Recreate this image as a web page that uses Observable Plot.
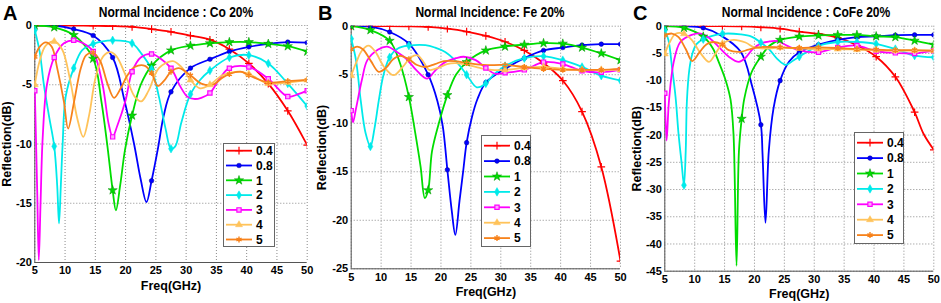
<!DOCTYPE html>
<html><head><meta charset="utf-8">
<script src="https://cdn.jsdelivr.net/npm/d3@7"></script>
<script src="https://cdn.jsdelivr.net/npm/@observablehq/plot@0.6"></script>
<style>
body{margin:0;background:#fff;font-family:"Liberation Sans",Arial,sans-serif;}
#wrap{position:relative;width:941px;height:303px;overflow:hidden;background:#fff;}
.panel{position:absolute;top:0;}
.title{position:absolute;font-weight:bold;font-size:14.5px;line-height:14.5px;white-space:nowrap;transform:translateX(-50%) scaleX(0.83);transform-origin:50% 0;color:#000;}
.letter{position:absolute;font-weight:bold;font-size:20px;line-height:20px;color:#000;}
.legend{position:absolute;background:#fff;border:1px solid #666;box-sizing:border-box;}
</style></head>
<body><div id="wrap"></div>
<script>
// ---------- shared ----------
const freqTicks = [5,10,15,20,25,30,35,40,45,50];
const markerFreqs = [5,8.21,11.43,14.64,17.86,21.07,24.29,27.5,30.71,33.93,37.14,40.36,43.57,46.79,50];
const seriesNames = ["0.4","0.8","1","2","3","4","5"];
const seriesColors = ["#ff0000","#0000ff","#00dd00","#00eaea","#ff00ff","#ffc35a","#f7821b"];
const seriesSymbols = ["plus","circle","star","diamond","square","triangle","asterisk"];

// ---------- Panel A : Co 20% ----------
const A_04 = [[5,0],[8.21,0],[11.43,0],[14.64,-0.02],[17.86,-0.05],[21.07,-0.12],[24.29,-0.3],[27.5,-0.53],[30.71,-0.85],[33.93,-1.2],[37.14,-2.0],[40.36,-3.2],[43.57,-4.9],[46.79,-7.2],[50,-10.1]];
const A_08 = [[5,0],[8.21,0],[11.43,-0.3],[14.64,-0.85],[17.86,-2.7],[19.8,-6.3],[21.4,-10],[22.5,-13],[23.45,-14.9],[24.29,-13.1],[25.3,-10.5],[26.3,-7.6],[27.5,-5.6],[30.71,-3.6],[33.93,-2.85],[37.14,-2.2],[40.36,-1.8],[43.57,-1.55],[46.79,-1.4],[50,-1.45]];
const A_1 = [[5,0],[8.21,-0.15],[11.43,-0.8],[14.64,-2.8],[16,-6.4],[17,-10.2],[17.86,-13.9],[18.4,-15.6],[19.1,-13.5],[19.9,-10.5],[21.07,-7.6],[22.5,-5],[24.29,-3.4],[27.5,-2.1],[30.71,-1.7],[33.93,-1.5],[37.14,-1.4],[40.36,-1.4],[43.57,-1.55],[46.79,-1.75],[50,-2.2]];
const A_2 = [[5,-0.4],[5.8,-2.2],[6.5,-5],[7.4,-7.8],[8.21,-10.2],[8.7,-13.5],[9.0,-16.7],[9.3,-13.5],[9.6,-10],[10.1,-6],[11.43,-3.6],[12.8,-2.1],[14.64,-1.55],[17.86,-1.25],[21.07,-1.5],[22.5,-2.3],[24.29,-3.7],[25.5,-6],[26.6,-8.7],[27.5,-10.4],[28.2,-10.2],[29.2,-8.2],[30.71,-5.8],[32.3,-4.6],[33.93,-3.8],[37.14,-2.7],[40.36,-2.5],[43.57,-3.2],[46.79,-4.9],[50,-6.8]];
const A_3 = [[5,-5.5],[5.4,-14],[5.66,-19.8],[5.95,-15],[6.3,-9.5],[7.0,-5],[8.21,-2.7],[9.8,-1.5],[11.43,-1.25],[13,-1.5],[14.64,-2.2],[16.2,-5],[17.2,-8.3],[17.86,-9.4],[18.6,-8.5],[20,-6.3],[21.07,-3.9],[22.5,-2.7],[24.29,-2.4],[25.8,-2.8],[27.5,-3.6],[29.1,-5.2],[30.2,-6.0],[31.3,-6.2],[32.5,-6.1],[33.93,-5.7],[35.5,-4.5],[37.14,-3.6],[40.36,-3.5],[43.57,-4.5],[46.79,-6.0],[48.5,-5.8],[50,-5.5]];
const A_4 = [[5,-5.0],[5.8,-3],[6.8,-1.7],[8.21,-1.35],[9.5,-2],[10.8,-4.5],[12,-7.8],[13.0,-9.4],[14,-7.5],[15,-4.5],[16.3,-2.6],[17.5,-2.25],[18.5,-2.6],[20,-4.2],[21.5,-6],[22.6,-6.4],[23.8,-5.5],[25.5,-3.6],[27.8,-3.0],[29.2,-3.5],[30.71,-4.6],[32.3,-5.3],[33.93,-5.0],[36,-4.2],[38.5,-3.9],[40.36,-4.1],[43.57,-4.9],[46.79,-4.8],[50,-4.6]];
const A_5 = [[5,-2.65],[5.8,-1.8],[6.8,-1.43],[7.8,-1.8],[8.7,-3.6],[9.8,-6.4],[10.5,-8.7],[11.5,-6.4],[12.6,-3.6],[13.5,-2.5],[14.64,-2.3],[15.8,-3],[17,-4.9],[18.1,-6.1],[19.2,-5.3],[20.3,-4.2],[21.5,-3.5],[23.2,-3.4],[24.29,-4],[25.3,-5.1],[26.3,-4.7],[27.5,-3.9],[28.8,-3.6],[30.71,-4.2],[32.5,-4.9],[34.4,-5.0],[36,-4.4],[37.14,-4.1],[39,-3.9],[40.36,-4.2],[43.57,-4.8],[46.79,-4.7],[50,-4.6]];

// ---------- Panel B : Fe 20% ----------
const B_04 = [[5,0],[8.21,0],[11.43,0],[14.64,-0.02],[17.86,-0.08],[21.07,-0.25],[24.29,-0.55],[27.5,-1.0],[30.71,-1.6],[33.93,-2.5],[37.14,-3.8],[40.36,-5.6],[43.57,-8.8],[46.79,-14.5],[50,-24.2]];
const B_08 = [[5,0],[8.21,-0.05],[11.43,-0.6],[14.64,-1.8],[17.86,-5.0],[19.4,-7.7],[20.3,-10.3],[21.07,-14.8],[21.8,-19],[22.4,-21.5],[23.1,-18],[23.7,-15],[24.29,-12.0],[25.2,-9.3],[26.1,-7.5],[27.5,-5.8],[30.71,-4.4],[33.93,-3.3],[37.14,-2.5],[40.36,-2.2],[43.57,-1.95],[46.79,-1.85],[50,-1.85]];
const B_1 = [[5,0],[8.21,-0.4],[11.43,-1.5],[13.2,-3.9],[14.64,-7.3],[15.7,-11],[16.6,-14.5],[17.3,-17.7],[17.86,-16.9],[18.5,-12.9],[19.6,-10.1],[21.07,-7.1],[22.5,-5],[24.29,-3.7],[27.5,-2.5],[30.71,-2.1],[33.93,-1.9],[37.14,-1.75],[40.36,-1.8],[43.57,-2.2],[46.79,-2.8],[50,-3.5]];
const B_2 = [[5,-1.3],[5.8,-3.5],[6.6,-7.7],[7.4,-11],[8.21,-12.4],[8.9,-10.5],[9.6,-7.7],[10.4,-5],[11.43,-3.2],[12.8,-2.3],[14.64,-2.0],[17.4,-1.95],[19,-2.2],[20.7,-2.65],[22.5,-3.6],[24.29,-5.0],[26,-6.3],[27.5,-5.9],[28.8,-5],[30.71,-4.1],[33.93,-3.3],[37.14,-3.1],[40.36,-3.5],[43.57,-4.2],[46.79,-5.1],[50,-5.6]];
const B_3 = [[5,-8.7],[5.3,-9.9],[5.8,-8.5],[6.8,-5.5],[7.7,-3.5],[9.5,-2.4],[11.0,-2.1],[12.5,-2.6],[14.1,-3.3],[16,-4.6],[17.7,-5.4],[19,-4.6],[20.7,-3.7],[22.5,-3.3],[23.8,-3.15],[25.8,-3.5],[27.5,-4.3],[29,-4.9],[30.71,-4.8],[33.93,-4.5],[37.14,-3.7],[40.36,-3.9],[43.57,-4.6],[46.79,-4.75],[50,-4.5]];
const B_4 = [[5,-5.1],[5.8,-3.8],[6.8,-2.5],[7.9,-2.0],[9,-2.6],[10.5,-4.2],[12.1,-5.05],[13.6,-4.2],[15,-3.2],[16.1,-3.0],[17.2,-3.8],[18,-4.5],[19.5,-4.3],[21,-3.9],[22.5,-3.8],[24.5,-4.0],[26.5,-4.3],[28.5,-4.5],[30.71,-4.5],[33.93,-4.3],[37.14,-4.2],[40.36,-4.4],[43.57,-4.5],[46.79,-4.5],[50,-4.5]];
const B_5 = [[5,-2.4],[6.0,-2.1],[7,-2.4],[8.3,-3.6],[9.6,-4.7],[10.8,-4.3],[12,-3.4],[13.2,-3.05],[14.64,-3.4],[16,-4.0],[17.5,-4.2],[19,-3.9],[20.5,-3.6],[22.3,-3.6],[24.29,-3.8],[27,-4.0],[30.71,-4.0],[33.93,-4.2],[37.14,-4.4],[40.36,-4.5],[43.57,-4.5],[46.79,-4.5],[50,-4.4]];

// ---------- Panel C : CoFe 20% ----------
const C_04 = [[5,0],[8.21,0],[11.43,0],[14.64,0],[17.86,-0.05],[21.07,-0.2],[24.29,-0.45],[27.5,-1.0],[30.71,-1.4],[33.93,-2.1],[37.14,-3.5],[40.36,-5.6],[43.57,-9.3],[46.79,-15.8],[48.3,-19.8],[50,-22.7]];
const C_08 = [[5,0],[8.21,0],[11.43,-0.3],[14.3,-1.65],[17.7,-4.7],[19.6,-11],[21.07,-18.1],[21.35,-23.5],[21.84,-36.1],[22.4,-22.9],[23.2,-15],[24.29,-10],[25.8,-6.5],[27.5,-4.8],[30.71,-3.4],[33.93,-2.5],[37.14,-2.0],[40.36,-1.85],[43.57,-1.65],[46.79,-1.6],[50,-1.6]];
const C_1 = [[5,0],[8.21,-0.3],[11.43,-1.9],[13,-4],[14.0,-6.5],[15.2,-10],[16,-13.5],[16.5,-20],[17.0,-44],[17.4,-23],[17.86,-17],[18.3,-13.3],[19.5,-8.5],[21.07,-5.6],[22.5,-3.6],[24.29,-2.5],[27.5,-1.9],[30.71,-1.7],[33.93,-1.6],[37.14,-1.6],[40.36,-1.85],[43.57,-2.0],[46.79,-2.65],[50,-3.4]];
const C_2 = [[5,-0.8],[5.6,-2.5],[6.2,-7.5],[6.8,-13],[7.3,-19.8],[7.8,-25],[8.21,-29.2],[8.5,-22.9],[8.7,-13.7],[9.1,-8],[9.6,-5.1],[10.3,-3.3],[11.43,-2.4],[14.64,-1.4],[17.7,-1.5],[19.5,-1.9],[21.07,-3.0],[22.5,-4.3],[23.8,-6],[25.2,-7.1],[26.5,-6.3],[27.5,-5.6],[30.71,-3.6],[33.93,-2.9],[37.14,-2.9],[40.36,-3.25],[43.57,-4.2],[46.79,-5.4],[50,-5.7]];
const C_3 = [[5,-12.3],[5.3,-21],[5.7,-13.7],[6.5,-6.5],[7.6,-2.9],[9.5,-1.6],[11.0,-1.35],[12.5,-2.2],[14.0,-3.8],[15.7,-5.6],[17.4,-6.55],[18.5,-5.8],[19.7,-4.2],[21.2,-3.1],[22.5,-2.8],[23.8,-2.75],[25.5,-3.6],[27.4,-4.4],[30.71,-4.8],[33.93,-3.9],[37.14,-3.55],[40.36,-4.6],[43.57,-4.9],[46.79,-5.0],[50,-4.5]];
const C_4 = [[5,-5.1],[5.8,-3],[6.8,-1.4],[8.21,-1.4],[9.5,-2.5],[11,-5],[12.4,-6.55],[13.5,-5],[14.64,-3.2],[16.5,-2.5],[18.5,-3],[20,-3.9],[22,-4.1],[24.29,-3.9],[27.5,-4.1],[30.71,-4.2],[33.93,-4.2],[37.14,-4.3],[40.36,-4.4],[43.57,-4.5],[46.79,-4.5],[50,-4.5]];
const C_5 = [[5,-1.65],[6.2,-1.35],[7.3,-2.0],[8.5,-4.2],[9.58,-6.4],[10.8,-4.8],[12,-3.3],[13.2,-2.9],[14.64,-3.4],[15.7,-4.4],[17.6,-4.7],[19,-4.3],[20.5,-3.9],[22,-3.8],[24.29,-3.9],[27.5,-4.0],[30.71,-3.9],[33.93,-4.0],[37.14,-4.2],[40.36,-4.3],[43.57,-4.4],[46.79,-4.4],[50,-4.5]];

// ---------- layout config ----------
const panels = [
  {letter:"A", title:"Normal Incidence : Co 20%", data:[A_04,A_08,A_1,A_2,A_3,A_4,A_5], yTicks:[-20,-15,-10,-5,0],
   left:0, width:313, ml:34.3, mr:6.3, mt:25, mb:41, yLabDx:-27.8, xLabDy:23, titleX:176, letterX:3,
   lg:{left:223, top:143, w:52, h:104, first:7.7, step:14.8}},
  {letter:"B", title:"Normal Incidence: Fe 20%", data:[B_04,B_08,B_1,B_2,B_3,B_4,B_5], yTicks:[-25,-20,-15,-10,-5,0],
   left:313, width:313, ml:37.7, mr:6, mt:25.7, mb:34.7, yLabDx:-29, xLabDy:23, titleX:490, letterX:318,
   lg:{left:481, top:135, w:50, h:112, first:10.7, step:15.4}},
  {letter:"C", title:"Normal Incidence : CoFe 20%", data:[C_04,C_08,C_1,C_2,C_3,C_4,C_5], yTicks:[-45,-40,-35,-30,-25,-20,-15,-10,-5,0],
   left:626, width:315, ml:38.3, mr:7.7, mt:25.7, mb:32.3, yLabDx:-27.6, xLabDy:22.6, titleX:806, letterX:633,
   lg:{left:854, top:132, w:50, h:112, first:10.7, step:15.4}}
];

function markerStyle(i){
  const c = seriesColors[i];
  switch(seriesSymbols[i]){
    case "plus": return {fill:"none", stroke:c, strokeWidth:1.2, r:2.6};
    case "asterisk": return {fill:"none", stroke:c, strokeWidth:1.4, r:2.8};
    case "square": return {fill:"#ffa6ff", stroke:c, strokeWidth:1.2, r:2.4};
    case "circle": return {fill:c, stroke:"#00009a", strokeWidth:0.5, r:2.3};
    case "star": return {fill:c, stroke:"#009000", strokeWidth:0.5, r:2.9};
    default: return {fill:c, stroke:c, strokeWidth:0.5, r:2.6};
  }
}
const isMarker = f => markerFreqs.some(g => Math.abs(g - f) < 0.02);

const wrap = document.getElementById("wrap");
const symMap = {plus:d3.symbolPlus, asterisk:d3.symbolAsterisk, square:d3.symbolSquare, circle:d3.symbolCircle, star:d3.symbolStar, diamond:d3.symbolDiamond, triangle:d3.symbolTriangle};
const FONT = "'Liberation Sans', Arial, sans-serif";

panels.forEach(p => {
  const rows = [];
  p.data.forEach((arr, i) => arr.forEach(([f, v]) => rows.push({s: seriesNames[i], i, f, v})));
  const marks = [
    Plot.gridX(freqTicks, {stroke:"#8a8a8a", strokeOpacity:1, strokeDasharray:"1,2", strokeWidth:1}),
    Plot.gridY(p.yTicks, {stroke:"#8a8a8a", strokeOpacity:1, strokeDasharray:"1,2", strokeWidth:1}),
    Plot.ruleX([freqTicks[0]], {stroke:"#555"}),
    Plot.ruleY([p.yTicks[0]], {stroke:"#555"}),
  ];
  seriesNames.forEach((s, i) => {
    const d = rows.filter(r => r.i === i);
    marks.push(Plot.line(d, {x:"f", y:"v", stroke:seriesColors[i], strokeWidth:1.8, curve:"catmull-rom", clip:true}));
  });
  seriesNames.forEach((s, i) => {
    const d = rows.filter(r => r.i === i && isMarker(r.f));
    marks.push(Plot.dot(d, {x:"f", y:"v", symbol:() => seriesSymbols[i], ...markerStyle(i), clip:true}));
  });
  marks.push(Plot.axisX({ticks:freqTicks, tickSize:0, tickPadding:4, fontSize:11, fontWeight:"bold", label:null}));
  marks.push(Plot.axisY({ticks:p.yTicks, tickSize:0, tickPadding:3, fontSize:11, fontWeight:"bold", tickFormat:d => String(d), label:null}));
  marks.push(Plot.text(["Freq(GHz)"], {frameAnchor:"bottom", dy:p.xLabDy, lineAnchor:"middle", textAnchor:"middle", fontSize:12.5, fontWeight:"bold", fill:"#000"}));
  marks.push(Plot.text(["Reflection(dB)"], {frameAnchor:"left", dx:p.yLabDx, rotate:-90, lineAnchor:"middle", textAnchor:"middle", fontSize:12.5, fontWeight:"bold", fill:"#000"}));

  const chart = Plot.plot({
    width:p.width, height:303,
    marginLeft:p.ml, marginRight:p.mr, marginTop:p.mt, marginBottom:p.mb,
    x:{domain:[5,50]}, y:{domain:[p.yTicks[0], 0]},
    style:{fontFamily:FONT, fontWeight:"bold", fontSize:"11px", color:"#000", background:"transparent", overflow:"visible"},
    marks
  });
  const holder = document.createElement("div");
  holder.className = "panel";
  holder.style.left = p.left + "px";
  holder.appendChild(chart);
  wrap.appendChild(holder);

  // title & panel letter
  const t = document.createElement("div");
  t.className = "title"; t.textContent = p.title;
  t.style.left = p.titleX + "px"; t.style.top = "4.5px";
  wrap.appendChild(t);
  const L = document.createElement("div");
  L.className = "letter"; L.textContent = p.letter;
  L.style.left = p.letterX + "px"; L.style.top = "2.5px";
  wrap.appendChild(L);

  // legend
  const lg = p.lg;
  const box = document.createElement("div");
  box.className = "legend";
  Object.assign(box.style, {left:lg.left+"px", top:lg.top+"px", width:lg.w+"px", height:lg.h+"px"});
  const svg = d3.create("svg").attr("width", lg.w).attr("height", lg.h).style("position","absolute").style("left","-1px").style("top","-1px");
  seriesNames.forEach((s, i) => {
    const y = lg.first + i * lg.step;
    const g = svg.append("g");
    g.append("line").attr("x1", 3).attr("x2", 29).attr("y1", y).attr("y2", y)
      .attr("stroke", seriesColors[i]).attr("stroke-width", 1.8);
    const ms = markerStyle(i);
    g.append("path").attr("d", d3.symbol(symMap[seriesSymbols[i]], Math.PI * ms.r * ms.r)())
      .attr("transform", `translate(16,${y})`).attr("fill", ms.fill).attr("stroke", ms.stroke).attr("stroke-width", ms.strokeWidth);
    g.append("text").attr("x", 33).attr("y", y).attr("dy", "0.35em").attr("font-size", 12).attr("font-weight", "bold")
      .attr("font-family", FONT).text(s);
  });
  box.appendChild(svg.node());
  wrap.appendChild(box);
});
</script>
</body></html>
